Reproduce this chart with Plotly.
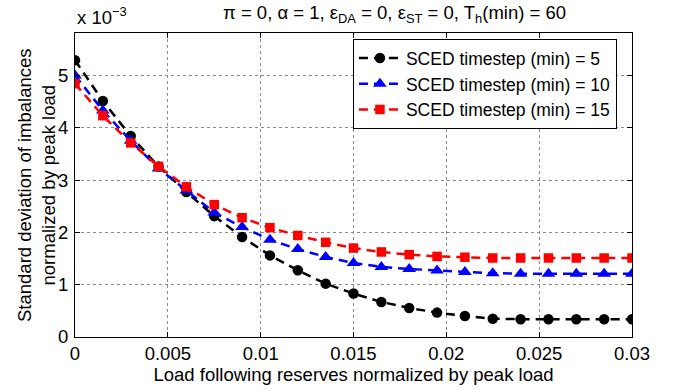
import plotly.graph_objects as go

# Load following reserves normalized by peak load
x_vals = [0, 0.0015, 0.003, 0.0045, 0.006, 0.0075, 0.009, 0.0105, 0.012, 0.0135,
          0.015, 0.0165, 0.018, 0.0195, 0.021, 0.0225, 0.024, 0.0255, 0.027, 0.0285, 0.03]

# Std. deviation of imbalances normalized by peak load (units of 1e-3)
sced_5 = [5.29, 4.51, 3.84, 3.26, 2.77, 2.31, 1.91, 1.56, 1.275, 1.02, 0.83,
          0.67, 0.555, 0.466, 0.40, 0.35, 0.34, 0.34, 0.34, 0.34, 0.34]
sced_10 = [5.00, 4.33, 3.75, 3.22, 2.80, 2.38, 2.10, 1.86, 1.68, 1.53, 1.415,
           1.34, 1.30, 1.27, 1.24, 1.22, 1.21, 1.21, 1.21, 1.21, 1.21]
sced_15 = [4.84, 4.23, 3.71, 3.26, 2.87, 2.53, 2.28, 2.09, 1.94, 1.81, 1.70,
           1.625, 1.575, 1.54, 1.525, 1.51, 1.51, 1.51, 1.51, 1.51, 1.51]

series_names = ["SCED timestep (min) = 5", "SCED timestep (min) = 10", "SCED timestep (min) = 15"]

x_tickvals = [0, 0.005, 0.01, 0.015, 0.02, 0.025, 0.03]
x_ticktext = ["0", "0.005", "0.01", "0.015", "0.02", "0.025", "0.03"]
y_tickvals = [0, 1, 2, 3, 4, 5]
y_ticktext = ["0", "1", "2", "3", "4", "5"]

FONT = "Liberation Sans, Arial, Helvetica, sans-serif"
FS = 18.5

fig = go.Figure()
styles = [
    ("#000000", "circle", 10.5),
    ("#0000ff", "triangle-up", 12),
    ("#ff0000", "square", 9.5),
]
for ys, name, (col, sym, sz) in zip([sced_5, sced_10, sced_15], series_names, styles):
    fig.add_trace(go.Scatter(
        x=x_vals, y=ys, name=name, mode="lines+markers",
        line=dict(color=col, width=2.5, dash="9px,6px"),
        marker=dict(color=col, symbol=sym, size=sz, line=dict(width=0)),
    ))

axis_common = dict(
    showline=True, linecolor="black", linewidth=1, mirror="ticks",
    ticks="inside", ticklen=5, tickcolor="black", tickwidth=1,
    showgrid=True, gridcolor="#8a8a8a", griddash="dot", gridwidth=1,
    zeroline=False, tickfont=dict(family=FONT, size=FS, color="black"),
)

fig.update_layout(
    width=678, height=390,
    margin=dict(l=75, r=46, t=33, b=53),
    paper_bgcolor="white", plot_bgcolor="white",
    font=dict(family=FONT, size=FS, color="black"),
    xaxis=dict(range=[0, 0.03], tickvals=x_tickvals, ticktext=x_ticktext,
               title=dict(text="Load following reserves normalized by peak load",
                          font=dict(family=FONT, size=FS), standoff=1),
               **axis_common),
    yaxis=dict(range=[0, 5.81], tickvals=y_tickvals, ticktext=y_ticktext,
               ticklabelstandoff=2,
               **axis_common),
    legend=dict(x=0.499, y=0.98, xanchor="left", yanchor="top",
                bgcolor="white", bordercolor="black", borderwidth=1,
                font=dict(family=FONT, size=17.5), tracegroupgap=0,
                itemwidth=42),
    showlegend=True,
)

fig.add_annotation(
    text="Standard deviation of imbalances<br>normalized by peak load",
    xref="paper", yref="paper", x=0, y=0.5, xshift=-39,
    xanchor="center", yanchor="middle", textangle=-90, showarrow=False,
    font=dict(family=FONT, size=FS, color="black"),
)
fig.add_annotation(
    text="π = 0, α = 1, ε<sub>DA</sub> = 0, ε<sub>ST</sub> = 0, T<sub>h</sub>(min) = 60",
    xref="paper", yref="paper", x=0.5745, y=1, yshift=5,
    xanchor="center", yanchor="bottom", showarrow=False,
    font=dict(family=FONT, size=FS, color="black"),
)
fig.add_annotation(
    text="x 10<sup>−3</sup>",
    xref="paper", yref="paper", x=0, y=1, yshift=3,
    xanchor="left", yanchor="bottom", showarrow=False,
    font=dict(family=FONT, size=FS, color="black"),
)

fig.write_html("out.html")
